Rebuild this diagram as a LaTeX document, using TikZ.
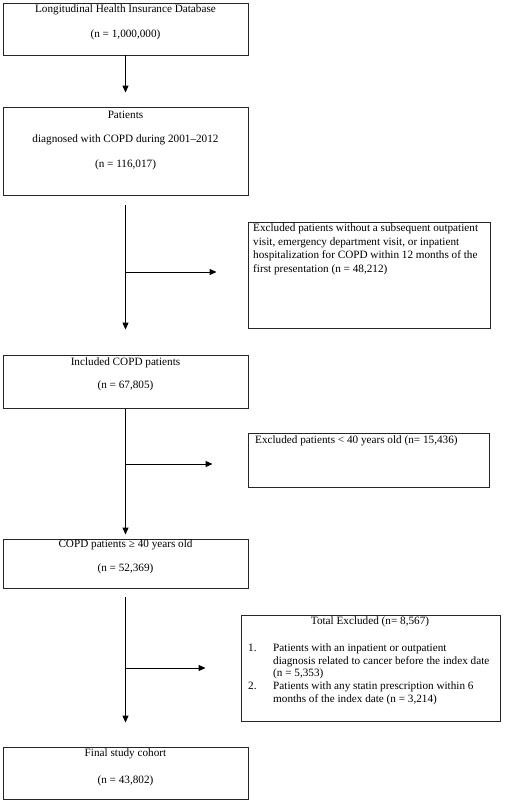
\documentclass[tikz,border=0pt]{standalone}
\usepackage{fontspec}
\setmainfont{Liberation Serif}
\usetikzlibrary{arrows.meta,calc}
\begin{document}
\begin{tikzpicture}[x=1pt,y=-1pt,
  font=\fontsize{11.2}{13.4}\selectfont,
  box/.style={draw=black!85, line width=0.9pt, inner sep=0pt},
  lbl/.style={inner sep=0pt, anchor=center},
  para/.style={inner sep=0pt, anchor=north west, align=left},
  arr/.style={-{Triangle[length=7pt,width=6pt]}, line width=1pt}]
\useasboundingbox (0,0) rectangle (504,803);

% main boxes
\node[box, minimum width=245pt, minimum height=52pt] (b1) at (125.5,29) {};
\node[box, minimum width=245pt, minimum height=88pt] (b2) at (125.5,151) {};
\node[box, minimum width=245pt, minimum height=53pt] (b3) at (125.5,381.5) {};
\node[box, minimum width=245pt, minimum height=49pt] (b4) at (125.5,563.5) {};
\node[box, minimum width=245pt, minimum height=52pt] (b5) at (125.5,773) {};

% exclusion boxes
\node[box, minimum width=242pt, minimum height=106pt] (e1) at (369,275) {};
\node[box, minimum width=241pt, minimum height=54pt] (e2) at (368.5,460) {};
\node[box, minimum width=259pt, minimum height=106pt] (e3) at (370.5,668) {};

% texts of main boxes
\node[lbl] (t1a) at (125.5,10) {Longitudinal Health Insurance Database};
\node[lbl] (t1b) at (125.5,35) {(n = 1,000,000)};
\node[lbl] (t2a) at (125.5,115) {Patients};
\node[lbl] (t2b) at (125.5,140) {diagnosed with COPD during 2001--2012};
\node[lbl] (t2c) at (125.5,165) {(n = 116,017)};
\node[lbl] (t3a) at (125.5,363) {Included COPD patients};
\node[lbl] (t3b) at (125.5,386) {(n = 67,805)};
\node[lbl] (t4a) at (125.5,545) {COPD patients ≥ 40 years old};
\node[lbl] (t4b) at (125.5,569) {(n = 52,369)};
\node[lbl] (t5a) at (125.5,754) {Final study cohort};
\node[lbl] (t5b) at (125.5,781) {(n = 43,802)};

% texts of exclusion boxes
\node[para] (te1) at (253,224) {Excluded patients without a subsequent outpatient\\
visit, emergency department visit, or inpatient\\
hospitalization for COPD within 12 months of the\\
first presentation (n = 48,212)};
\node[para] (te2) at (255,436) {Excluded patients < 40 years old (n= 15,436)};
\node[lbl] (te3t) at (370,622) {Total Excluded (n= 8,567)};
\node[para] (te3) at (248,642) {\renewcommand{\arraystretch}{0.96}%
\begin{tabular}{@{}p{25pt}@{}l@{}}
1. & Patients with an inpatient or outpatient\\
   & diagnosis related to cancer before the index date\\
   & (n = 5,353)\\
2. & Patients with any statin prescription within 6\\
   & months of the index date (n = 3,214)
\end{tabular}};

% vertical arrows
\draw[arr, shorten >=14pt] (b1) -- (b2);
\draw[arr, shorten <=10pt, shorten >=25pt] (b2) -- (b3);
\draw[arr, shorten <=1pt, shorten >=4pt] (b3) -- (b4);
\draw[arr, shorten <=9pt, shorten >=24pt] (b4) -- (b5);

% side arrows
\coordinate (m1) at (125.5,272);
\coordinate (m2) at (125.5,464);
\coordinate (m3) at (125.5,668);
\draw[arr, shorten >=31pt] (m1) -- (m1 -| e1.west);
\draw[arr, shorten >=35pt] (m2) -- (m2 -| e2.west);
\draw[arr, shorten >=35pt] (m3) -- (m3 -| e3.west);
\end{tikzpicture}
\end{document}
